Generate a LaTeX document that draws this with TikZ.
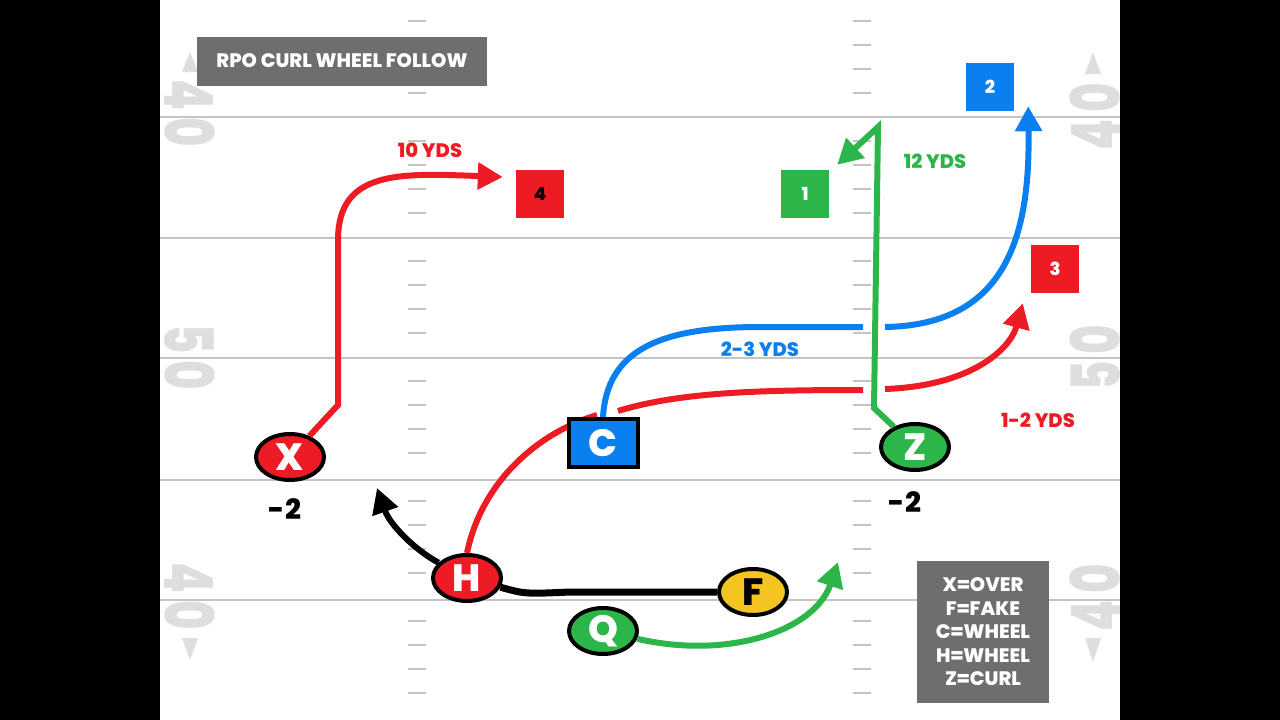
\documentclass[tikz,border=0pt]{standalone}
\usepackage{fontspec}
\setmainfont{Poppins}[BoldFont={Poppins ExtraBold}]
\usetikzlibrary{arrows.meta,shapes.geometric,positioning}

\definecolor{playred}{RGB}{237,28,36}
\definecolor{playblue}{RGB}{10,127,240}
\definecolor{playgreen}{RGB}{44,182,74}
\definecolor{playyellow}{RGB}{244,196,32}
\definecolor{boxgray}{RGB}{110,110,110}
\definecolor{fieldline}{RGB}{196,196,196}
\definecolor{fieldnum}{RGB}{222,222,222}

\begin{document}
\begin{tikzpicture}[x=1pt,y=-1pt,
  player/.style = {draw,ellipse,line width=4pt,minimum width=68pt,minimum height=46pt,inner sep=0pt,text=white,font=\fontsize{38}{38}\selectfont\bfseries},
  target/.style = {minimum size=48pt,inner sep=0pt,text=white,font=\fontsize{18}{18}\selectfont\bfseries},
  yds/.style = {inner sep=0pt,font=\fontsize{19.5}{19.5}\selectfont\bfseries},
  gain/.style = {inner sep=0pt,font=\fontsize{28}{28}\selectfont\bfseries},
  infobox/.style = {fill=boxgray,text=white,inner sep=0pt,font=\fontsize{19.5}{23.5}\selectfont\bfseries,align=center},
  yardnum/.style = {text=fieldnum,inner sep=0pt,font=\fontsize{68}{68}\selectfont\bfseries},
  route/.style = {line width=6pt},
  routehead/.style = {-{Triangle[length=25pt,width=26pt]}},
  fieldmark/.style = {fieldline,line width=2pt}]

\fill[black] (0,0) rectangle (1280,720);
\fill[white] (160,0) rectangle (1120,720);
\useasboundingbox (0,0) rectangle (1280,720);

% field
\foreach \y in {117,238,358,480,600}
  \draw[fieldmark] (160,\y) -- (1120,\y);
\foreach \k in {-4,...,25}{
  \pgfmathtruncatemacro\r{mod(\k+5,5)}
  \ifnum\r>0
    \draw[fieldmark,line width=2.5pt] (408,117+24*\k) -- (426,117+24*\k) (853,117+24*\k) -- (871,117+24*\k);
  \fi}

\node[yardnum,rotate=-90] (lnum1) at (190,113) {\scalebox{0.66}[1]{4\hspace{10pt}0}};
\node[yardnum,rotate=-90] (lnum2) at (190,357) {\scalebox{0.66}[1]{5\hspace{10pt}0}};
\node[yardnum,rotate=-90] (lnum3) at (190,596) {\scalebox{0.66}[1]{4\hspace{10pt}0}};
\node[yardnum,rotate=90] (rnum1) at (1095,117) {\scalebox{0.66}[1]{4\hspace{10pt}0}};
\node[yardnum,rotate=90] (rnum2) at (1095,358) {\scalebox{0.66}[1]{5\hspace{10pt}0}};
\node[yardnum,rotate=90] (rnum3) at (1095,598) {\scalebox{0.66}[1]{4\hspace{10pt}0}};
\fill[fieldnum] (190,52) -- (182,72) -- (198,72) -- cycle;
\fill[fieldnum] (1093,52) -- (1085,74) -- (1101,74) -- cycle;
\fill[fieldnum] (190,660) -- (182,638) -- (198,638) -- cycle;
\fill[fieldnum] (1093,662) -- (1085,638) -- (1101,638) -- cycle;

\node[infobox,minimum width=290pt,minimum height=49pt] (title) at (342,61) {RPO CURL WHEEL FOLLOW};
\node[infobox,minimum width=132pt,minimum height=142pt] (key) at (983,632) {X=OVER\\F=FAKE\\C=WHEEL\\H=WHEEL\\Z=CURL};

% targets and labels
\node[target,fill=playred,text=black] (t4) at (540,194) {4};
\node[target,fill=playgreen] (t1) at (805,194) {1};
\node[target,fill=playblue] (t2) at (990,87) {2};
\node[target,fill=playred] (t3) at (1055,269) {3};

\node[yds,text=playred] (yds10) at (430,150) {10 YDS};
\node[yds,text=playgreen] (yds12) at (935,161) {12 YDS};
\node[yds,text=playblue] (yds23) at (760,349) {2-3 YDS};
\node[yds,text=playred] (yds1to2) at (1038,420) {1-2 YDS};

% routes under the players
\coordinate (hend) at (377,488);
\coordinate (qend) at (838,562);

\draw[route,playred] (467,553) .. controls (482,480) and (540,432) .. (597,415);
\draw[route,playred] (618,411) .. controls (680,392) and (760,390) .. (863,390);
\draw[route,playred,routehead] (885,389) .. controls (970,386) and (1010,350) .. ([xshift=-8pt,yshift=-10pt]t3.south west);

\draw[route,playblue] (603,417) .. controls (607,350) and (660,327) .. (760,327) -- (863,327);
\draw[route,playblue,routehead] (885,327) .. controls (1010,325) and (1030,230) .. ([xshift=14pt,yshift=5pt]t2.south east);

% players
\node[player,fill=playred] (x) at (290,457) {X};
\node[player,fill=playred] (h) at (467,578) {H};
\node[player,fill=playgreen] (q) at (603,631) {Q};
\node[player,fill=playyellow,text=black] (f) at (753,592) {F};
\node[player,fill=playgreen] (z) at (915,447) {Z};
\node[player,rectangle,fill=playblue,minimum width=69pt,minimum height=48pt] (c) at (603,443) {C};

\node[gain] (xgain) [below=16pt of x, xshift=-5pt] {-2};
\node[gain] (zgain) [below=19pt of z, xshift=-10pt] {-2};

\draw[route,playred,routehead] (x) -- (338,405) -- (338,240) .. controls (338,170) and (400,173) .. ([xshift=-13pt,yshift=17pt]t4.west);
\draw[route,playgreen,routehead] (z) -- (874,408) -- (878,127) -- ([xshift=8pt,yshift=5pt]t1.north east);
\draw[route,black,line width=7pt] (h) .. controls (525,594) .. (570,592) -- (f);
\draw[route,black,routehead] (h) .. controls (415,550) and (390,525) .. (hend);
\draw[route,playgreen,routehead] (q) .. controls (730,660) and (815,630) .. (qend);

\end{tikzpicture}
\end{document}
